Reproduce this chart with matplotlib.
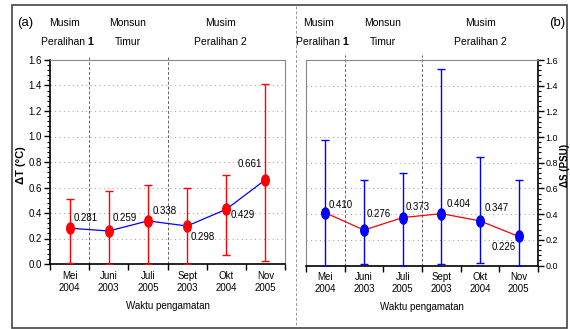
import numpy as np
import matplotlib
matplotlib.use("Agg")
import matplotlib.pyplot as plt
import matplotlib.patches as mpatches
from matplotlib.path import Path
from matplotlib.ticker import MultipleLocator, FixedLocator, NullFormatter

plt.rcParams['font.family'] = ['Liberation Sans Narrow', 'Liberation Sans', 'DejaVu Sans']

# data
months = ["Mei\n2004", "Juni\n2003", "Juli\n2005", "Sept\n2003", "Okt\n2004", "Nov\n2005"]
dT = [0.281, 0.259, 0.338, 0.298, 0.429, 0.661]
dT_top = [0.51, 0.57, 0.62, 0.60, 0.70, 1.41]
dT_bot = [0.01, 0.0, 0.0, 0.0, 0.07, 0.02]
dS = [0.410, 0.276, 0.373, 0.404, 0.347, 0.226]
dS_top = [0.98, 0.667, 0.72, 1.53, 0.847, 0.667]
dS_bot = [0.0, 0.01, 0.0, 0.01, 0.02, 0.0]
seasons = [("Musim", "Peralihan"), ("Monsun", "Timur"), ("Musim", "Peralihan 2")]

# label offsets in pixels (dx, dy, ha)
off_a = [(4, 10, 'left'), (4, 13, 'left'), (5, 10, 'left'), (4, -11, 'left'), (4, -6, 'left'), (-3, 16, 'right')]
off_b = [(3, 8, 'left'), (3, 16, 'left'), (3, 11, 'left'), (5, 10, 'left'), (5, 13, 'left'), (-3, -11, 'right')]

# tall ellipse marker
circ = Path.unit_circle()
ell = Path(circ.vertices * np.array([0.68, 1.0]), circ.codes)

fig = plt.figure(figsize=(5.7, 3.29), dpi=100)
W, H = 570.0, 329.0

def fx(px):
    return px / W

def fy(py):
    return 1 - py / H

ax_a = fig.add_axes([fx(50), fy(264), fx(285) - fx(50), fy(60) - fy(264)])
ax_b = fig.add_axes([fx(306), fy(265.5), fx(538) - fx(306), fy(60) - fy(265.5)])

x = np.arange(len(months))

def draw_panel(ax, vals, top, bot, mcol, lcol, offs, side):
    ax.set_xlim(-0.5, 5.5)
    ax.set_ylim(0, 1.6)
    for y in np.arange(0.2, 1.6, 0.2):
        ax.axhline(y, color='#aaaaaa', lw=0.8, ls=(0, (1, 3)), zorder=0)
    for xv in (0.5, 2.5):
        ax.plot([xv, xv], [0, 1.64], color='#666666', lw=0.7, ls=(0, (3, 2)),
                clip_on=False, zorder=0)
    ax.plot(x, vals, color=lcol, lw=0.9, zorder=2)
    v = np.array(vals)
    yerr = [v - np.array(bot), np.array(top) - v]
    ax.errorbar(x, vals, yerr=yerr, fmt='none', ecolor=mcol,
                elinewidth=1.0, capsize=3, capthick=1.0, zorder=3)
    ax.plot(x, vals, ls='none', marker=ell, ms=8, color=mcol, zorder=4)
    for xi, vi, (dx, dy, ha) in zip(x, vals, offs):
        ax.annotate(f"{vi:.3f}", (xi, vi), xytext=(dx, dy), textcoords='offset pixels',
                    ha=ha, va='center', fontsize=7)
    ax.xaxis.set_major_locator(FixedLocator(np.arange(-0.5, 6, 1)))
    ax.xaxis.set_major_formatter(NullFormatter())
    ax.xaxis.set_minor_locator(FixedLocator(x))
    ax.set_xticklabels(months, minor=True)
    ax.tick_params(axis='x', which='major', length=4, direction='out', width=1)
    ax.tick_params(axis='x', which='minor', length=0, labelsize=7, pad=5)
    ax.yaxis.set_major_locator(MultipleLocator(0.2))
    ax.yaxis.set_minor_locator(MultipleLocator(0.04))
    ax.yaxis.set_major_formatter(matplotlib.ticker.FormatStrFormatter('%.1f'))
    ax.tick_params(axis='y', which='major', length=4, width=1, labelsize=7, pad=2)
    ax.tick_params(axis='y', which='minor', length=2, width=0.8)
    if side == 'right':
        ax.yaxis.tick_right()
        ax.tick_params(axis='y', which='major', labelsize=6.5, pad=1.5)
        ax.spines['left'].set_color('#888888')
        ax.spines['right'].set_linewidth(1.2)
    else:
        ax.spines['right'].set_color('#888888')
        ax.spines['left'].set_linewidth(1.2)
    ax.spines['top'].set_color('#888888')
    ax.spines['bottom'].set_linewidth(1.2)
    ax.set_xlabel("Waktu pengamatan", fontsize=7, labelpad=6)

draw_panel(ax_a, dT, dT_top, dT_bot, '#ff0000', '#0000ff', off_a, 'left')
draw_panel(ax_b, dS, dS_top, dS_bot, '#0000ff', '#ff0000', off_b, 'right')

# y-axis titles
fig.text(fx(21), fy(165), "ΔT (°C)", rotation=90, ha='center', va='center',
         fontsize=8, fontweight='bold')
fig.text(fx(565), fy(165), "ΔS (PSU)", rotation=90, ha='center', va='center',
         fontsize=7, fontweight='bold')

# season headings
def season_text(xc, l1, l2, bold1):
    fig.text(fx(xc), fy(23), l1, ha='center', va='center', fontsize=7.5)
    if bold1:
        t = fig.text(fx(xc), fy(42), l2 + " ", ha='center', va='center', fontsize=7.5)
        fig.canvas.draw()
        bb = t.get_window_extent()
        fig.text(bb.x1 / fig.dpi / fig.get_figwidth(), fy(42), "1", ha='left', va='center',
                 fontsize=7.5, fontweight='bold')
    else:
        fig.text(fx(xc), fy(42), l2, ha='center', va='center', fontsize=7.5)

for xs in ((64, 128, 220), (319, 383, 480)):
    season_text(xs[0], seasons[0][0], seasons[0][1], True)
    season_text(xs[1], seasons[1][0], seasons[1][1], False)
    season_text(xs[2], seasons[2][0], seasons[2][1], False)

fig.text(fx(25), fy(23), "(a)", ha='center', va='center', fontsize=9.5)
fig.text(fx(557), fy(23), "(b)", ha='center', va='center', fontsize=9.5)

# outer frame and divider
fig.patches.append(mpatches.Rectangle((fx(12), fy(328)), fx(567) - fx(12), fy(5) - fy(328),
                                      transform=fig.transFigure, fill=False,
                                      edgecolor='#444444', lw=1.2))
fig.lines.append(plt.Line2D([fx(296), fx(296)], [fy(6), fy(327)], transform=fig.transFigure,
                            color='#999999', lw=0.7, ls=(0, (3, 2))))

fig.savefig("out.png", dpi=100)
